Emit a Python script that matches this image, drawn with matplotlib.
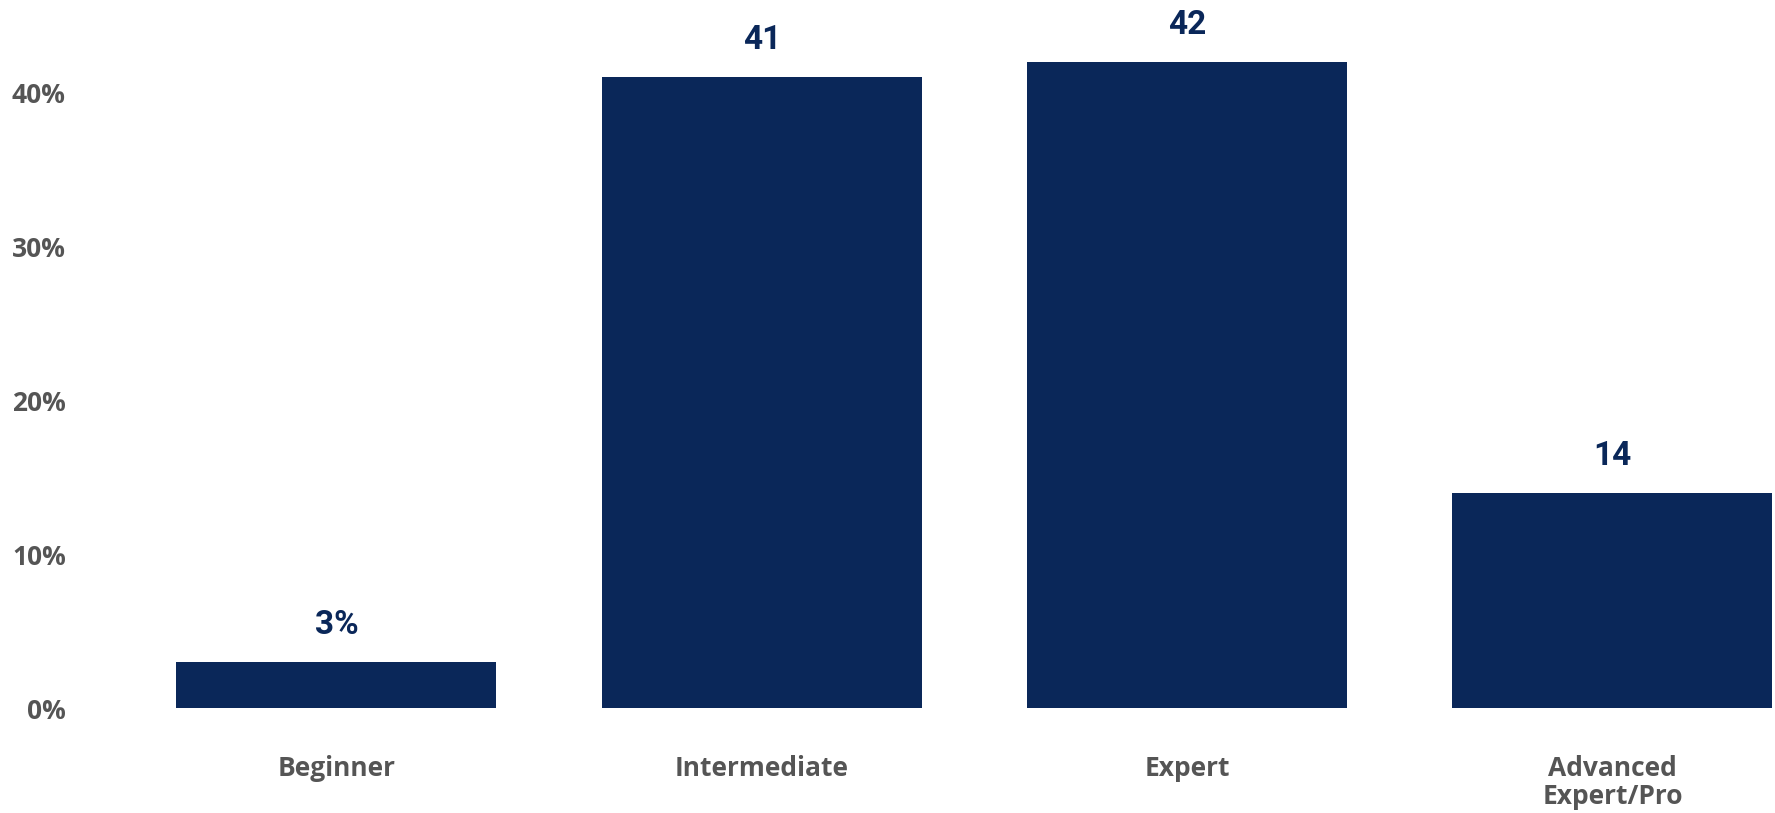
import matplotlib as mpl
mpl.use('Agg')
import matplotlib.pyplot as plt

categories = ['Beginner', 'Intermediate', 'Expert', 'Advanced\nExpert/Pro']
values = [3, 41, 42, 14]
value_labels = ['3%', '41', '42', '14']
yticks = [0, 10, 20, 30, 40]
ytick_labels = ['0%', '10%', '20%', '30%', '40%']

navy = '#0a2759'
grey = '#555555'
plt.rcParams['font.family'] = ['Roboto', 'DejaVu Sans']

fig = plt.figure(figsize=(17.75, 8.13), dpi=100)
ax = fig.add_axes([145 / 1775, 105 / 813, 1629 / 1775, 708 / 813])

x = range(len(categories))
bars = ax.bar(x, values, width=0.752, color=navy)

for b, lab in zip(bars, value_labels):
    ax.annotate(lab, (b.get_x() + b.get_width() / 2, b.get_height()),
                xytext=(0, 20), textcoords='offset points',
                ha='center', va='baseline', fontsize=24, fontweight='bold',
                color=navy)

ax.set_xlim(-0.45, 3.38)
ax.set_ylim(0, 46)
ax.set_yticks(yticks)
ax.set_yticklabels(ytick_labels)
ax.set_xticks(list(x))
ax.set_xticklabels(categories, linespacing=1.05)

for s in ax.spines.values():
    s.set_visible(False)
ax.tick_params(axis='both', length=0, colors=grey, labelsize=19)
ax.tick_params(axis='y', pad=57)
ax.tick_params(axis='x', pad=34)
for t in ax.get_xticklabels() + ax.get_yticklabels():
    t.set_family(['Open Sans', 'DejaVu Sans'])
    t.set_fontweight('bold')

plt.savefig('out.png', dpi=100)
